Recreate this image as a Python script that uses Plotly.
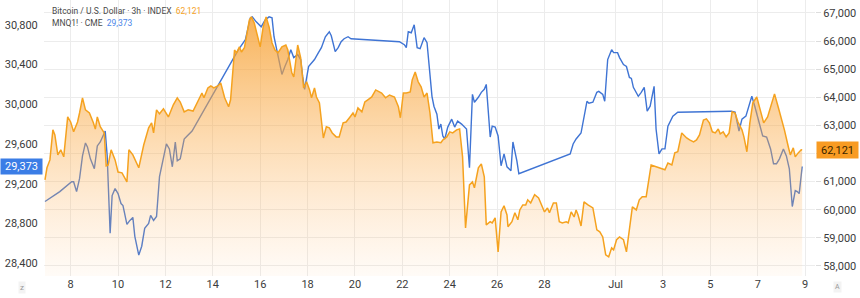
import pandas as pd
import plotly.graph_objects as go

# ---------------- data ----------------
BASE = "2024-06-06 00:00"   # hours below are counted from this moment

btc_hours = [
    22, 24, 27, 30, 32, 35, 38, 41, 45, 48,
    51, 55, 57, 60, 63, 67, 71, 73, 75, 78,
    82, 84, 86, 89, 93, 96, 100, 105, 107, 111,
    117, 122, 127, 130, 132, 135, 138, 142, 147, 152,
    156, 159, 163, 167, 172, 174, 177, 181, 183, 187,
    190, 193, 197, 200, 204, 208, 210, 214, 216, 219,
    221, 224, 226, 229, 231, 234, 237, 240, 243, 246,
    249, 252, 255, 258, 262, 266, 268, 272, 274, 278,
    281, 284, 287, 290, 292, 295, 297, 300, 304, 307,
    310, 313, 317, 320, 324, 327, 331, 334, 336, 339,
    343, 346, 349, 353, 357, 360, 363, 367, 371, 376,
    380, 382, 385, 388, 392, 394, 397, 400, 403, 406,
    409, 412, 415, 419, 423, 425, 429, 432, 435, 439,
    442, 445, 448, 452, 455, 457, 461, 464, 467, 469,
    473, 475, 478, 481, 484, 487, 490, 491, 495, 498,
    501, 503, 506, 509, 511, 514, 516, 518, 522, 525,
    528, 531, 533, 537, 540, 543, 546, 550, 552, 555,
    558, 560, 562, 565, 568, 572, 577, 581, 584, 587,
    590, 593, 596, 598, 601, 604, 608, 611, 614, 617,
    621, 624, 627, 631, 636, 641, 645, 650, 653, 657,
    660, 663, 667, 672, 675, 679, 682, 685, 689, 692,
    695, 698, 701, 704, 706, 709, 712, 715, 718, 721,
    724, 728, 730, 733, 736, 739, 743, 747, 750, 754,
    758, 761, 765, 768, 771, 775, 777, 780, 782, 785,
    788, 789,
]
btc_values = [
    61060, 61490, 61770, 62840, 62660, 61950, 62130, 61880, 63300, 63120,
    62770, 63120, 63440, 63980, 63550, 63440, 63090, 62870, 63300, 62950,
    62730, 61560, 61590, 62130, 61770, 61340, 61310, 60990, 62130, 61950,
    61490, 62300, 62910, 63090, 62730, 63550, 63410, 63590, 63300, 63730,
    63980, 63830, 63480, 63550, 63510, 63660, 63910, 64150, 63980, 64330,
    64400, 64330, 64400, 64510, 63980, 63660, 63910, 65680, 65580, 65790,
    65610, 65760, 66150, 66750, 66860, 66640, 66220, 65790, 66500, 66860,
    66500, 65930, 65680, 65580, 65790, 65860, 65680, 64870, 64720, 65860,
    65400, 64330, 64550, 64260, 63980, 64330, 64010, 63800, 62550, 62950,
    62910, 62730, 62590, 62590, 63090, 63120, 63300, 63440, 63300, 63620,
    63480, 63830, 63910, 64010, 64260, 64190, 64150, 63980, 64080, 64010,
    63660, 63270, 64150, 64150, 64190, 64620, 64900, 64550, 64370, 64010,
    64150, 63440, 62380, 62410, 62380, 62480, 62590, 62770, 62730, 62840,
    62870, 61880, 59350, 60880, 60990, 60780, 61490, 61630, 61170, 59460,
    59570, 59530, 59710, 58500, 59920, 60140, 59810, 59390, 59570, 59890,
    59640, 59990, 60170, 60170, 60350, 60240, 60420, 60530, 60420, 60170,
    59920, 60060, 59890, 60240, 60240, 59570, 59530, 59570, 59530, 59920,
    59740, 59990, 59810, 59420, 60280, 60170, 60060, 59280, 59210, 59030,
    58390, 58320, 58640, 58570, 58930, 59030, 58930, 58500, 59280, 60100,
    59990, 60350, 60460, 60460, 61590, 61520, 61490, 61420, 61660, 61590,
    62020, 62060, 62730, 62550, 62480, 62410, 62480, 62660, 63190, 63230,
    63090, 62770, 62730, 62870, 62700, 62770, 62590, 62730, 63480, 63440,
    63120, 62840, 62590, 62060, 63090, 63800, 64010, 63440, 63090, 63300,
    63730, 64120, 63620, 63270, 62840, 62230, 61950, 62200, 61880, 62020,
    62130, 62121,
]

mnq_hours = [
    22, 37, 49, 51, 54, 57, 60, 63, 65, 68,
    72, 75, 78, 81, 83, 85, 88, 90, 93, 96,
    99, 101, 103, 105, 108, 111, 113, 117, 120, 123,
    127, 129, 132, 135, 138, 142, 145, 148, 151, 154,
    156, 159, 163, 166, 171, 211, 218, 225, 230, 232,
    236, 241, 245, 249, 252, 254, 257, 260, 262, 265,
    268, 271, 274, 278, 281, 283, 285, 289, 292, 295,
    299, 302, 306, 310, 312, 316, 319, 322, 325, 329,
    332, 381, 386, 388, 390, 393, 396, 399, 402, 406,
    409, 411, 414, 416, 419, 421, 423, 425, 427, 430,
    434, 437, 440, 444, 447, 449, 452, 455, 457, 461,
    464, 467, 469, 473, 475, 478, 481, 484, 487, 490,
    494, 496, 500, 502, 554, 557, 560, 565, 571, 573,
    577, 581, 583, 587, 589, 592, 596, 598, 602, 604,
    608, 611, 614, 616, 618, 623, 626, 629, 632, 635,
    639, 641, 644, 647, 650, 653, 658, 663, 717, 721,
    725, 728, 732, 735, 738, 741, 745, 749, 753, 757,
    760, 763, 766, 770, 773, 776, 779, 782, 784, 786,
    789,
]
mnq_values = [
    29020, 29120, 29220, 29220, 29120, 29250, 29480, 29610, 29570, 29450,
    29350, 29580, 29620, 29680, 29730, 29480, 28700, 29080, 29150, 29100,
    29000, 28980, 28900, 28790, 28830, 28860, 28670, 28480, 28570, 28750,
    28800, 28880, 28830, 28870, 29270, 29480, 29600, 29550, 29370, 29620,
    29430, 29450, 29650, 29680, 29730, 30430, 30550, 30650, 30870, 30880,
    30830, 30780, 30850, 30880, 30870, 30680, 30530, 30400, 30300, 30380,
    30450, 30550, 30470, 30500, 30450, 30280, 30150, 30380, 30420, 30450,
    30520, 30570, 30680, 30730, 30690, 30530, 30570, 30630, 30660, 30680,
    30660, 30630, 30600, 30570, 30730, 30720, 30800, 30570, 30560, 30670,
    30620, 30380, 30080, 29980, 29900, 29750, 29800, 29680, 29650, 29770,
    29850, 29770, 29830, 29800, 29770, 29750, 29360, 30100, 30020, 30070,
    30120, 30150, 30200, 29670, 29780, 29770, 29680, 29380, 29500, 29370,
    29330, 29620, 29430, 29300, 29500, 29600, 29650, 29710, 30030, 30010,
    30020, 30120, 30130, 30100, 30030, 30450, 30550, 30520, 30520, 30470,
    30400, 30380, 30270, 30260, 30170, 30080, 30120, 30170, 29930, 29980,
    30180, 29750, 29500, 29550, 29550, 29780, 29880, 29920, 29930, 29920,
    29730, 29850, 29880, 29980, 30080, 29980, 29830, 29680, 29670, 29550,
    29400, 29400, 29450, 29550, 29480, 29350, 28970, 29130, 29120, 29100,
    29373,
]

x_tick_dates = ["2024-06-08", "2024-06-10", "2024-06-12", "2024-06-14", "2024-06-16",
                "2024-06-18", "2024-06-20", "2024-06-22", "2024-06-24", "2024-06-26",
                "2024-06-28", "2024-07-01", "2024-07-03", "2024-07-05", "2024-07-07",
                "2024-07-09"]
x_tick_text = ["8", "10", "12", "14", "16", "18", "20", "22", "24", "26", "28",
               "Jul", "3", "5", "7", "9"]

left_ticks = [28400, 28800, 29200, 29600, 30000, 30400, 30800]
right_ticks = [58000, 59000, 60000, 61000, 62000, 63000, 64000, 65000, 66000, 67000]

btc_last = 62121
mnq_last = 29373
btc_label = "Bitcoin / U.S. Dollar · 3h · INDEX"
mnq_label = "MNQ1! · CME"

# ---------------- figure ----------------
base = pd.Timestamp(BASE)
btc_t = base + pd.to_timedelta(btc_hours, unit="h")
mnq_t = base + pd.to_timedelta(mnq_hours, unit="h")

ORANGE = "#f5a21f"
BLUE = "#3f74d4"
FONT = "Roboto, 'Open Sans', Arial, sans-serif"

fig = go.Figure()

fig.add_trace(go.Scatter(
    x=mnq_t, y=mnq_values, mode="lines", yaxis="y",
    line=dict(color=BLUE, width=1.4), hoverinfo="skip", showlegend=False,
))

fig.add_trace(go.Scatter(
    x=btc_t, y=btc_values, mode="lines", yaxis="y2",
    line=dict(color=ORANGE, width=1.5),
    fill="tozeroy",
    fillgradient=dict(
        type="vertical",
        colorscale=[[0, "rgba(255,190,120,0.06)"],
                    [0.5, "rgba(250,170,70,0.42)"],
                    [1, "rgba(245,158,45,0.85)"]],
        start=57640, stop=67460,
    ),
    hoverinfo="skip", showlegend=False,
))

x0 = base + pd.Timedelta(hours=21)
x1 = base + pd.Timedelta(hours=802)

# the last-price tag covers the 62,000 label, so that label is left blank
right_text = ["" if v == 62000 else f"{v:,}" for v in right_ticks]

fig.update_layout(
    width=860, height=298,
    margin=dict(l=44, r=45, t=0, b=22),
    paper_bgcolor="white", plot_bgcolor="white",
    font=dict(family=FONT, size=11, color="#3c3c3c"),
    xaxis=dict(
        type="date", range=[x0, x1],
        tickvals=pd.to_datetime(x_tick_dates), ticktext=x_tick_text,
        showgrid=True, gridcolor="#ececec", gridwidth=1,
        zeroline=False, showline=False, ticks="", ticklen=0,
        tickfont=dict(size=11, color="#3c3c3c"),
    ),
    yaxis=dict(
        side="left", range=[28270, 31050],
        tickvals=left_ticks, ticktext=[f"{v:,}" for v in left_ticks],
        showgrid=False, zeroline=False, showline=False,
        ticks="outside", ticklen=3, tickcolor="rgba(0,0,0,0)",
        tickfont=dict(size=11, color="#3c3c3c"),
    ),
    yaxis2=dict(
        side="right", overlaying="y", range=[57640, 67460],
        tickvals=right_ticks, ticktext=right_text,
        showgrid=True, gridcolor="#ececec", gridwidth=1,
        zeroline=False, showline=False,
        ticks="outside", ticklen=5, tickcolor="#dddddd",
        tickfont=dict(size=11, color="#3c3c3c"),
    ),
    hovermode=False,
)

annotations = [
    dict(xref="paper", yref="paper", x=0.0075, y=1 - 11 / 276, xanchor="left", yanchor="middle",
         text=f"{btc_label}  <span style='color:{ORANGE}'>{btc_last:,}</span>",
         showarrow=False, font=dict(size=8.5, color="#4a4a4a", family=FONT)),
    dict(xref="paper", yref="paper", x=0.0075, y=1 - 23 / 276, xanchor="left", yanchor="middle",
         text=f"{mnq_label}  <span style='color:#4a86e8'>{mnq_last:,}</span>",
         showarrow=False, font=dict(size=8.5, color="#4a4a4a", family=FONT)),
    dict(xref="paper", yref="y2", x=1, y=btc_last, xanchor="left", yanchor="middle",
         xshift=1, text=f"{btc_last:,}", showarrow=False, bgcolor="#f89b23",
         width=38, height=13, borderpad=1.5,
         font=dict(size=11, color="#3a2600", family=FONT)),
    dict(xref="paper", yref="y", x=0, y=mnq_last, xanchor="right", yanchor="middle",
         xshift=-1, text=f"{mnq_last:,}", showarrow=False, bgcolor="#3b7de6",
         width=38, height=12, borderpad=1.5,
         font=dict(size=11, color="white", family=FONT)),
    dict(xref="paper", yref="paper", x=(22 - 44) / 771, y=-(287 - 276) / 276,
         xanchor="center", yanchor="middle", text="z", showarrow=False,
         bgcolor="#f3f3f3", font=dict(size=8, color="#999999")),
    dict(xref="paper", yref="paper", x=(838 - 44) / 771, y=-(287 - 276) / 276,
         xanchor="center", yanchor="middle", text="A", showarrow=False,
         bgcolor="#f3f3f3", font=dict(size=7, color="#999999")),
]
fig.update_layout(annotations=annotations)

fig.write_html("out.html")
